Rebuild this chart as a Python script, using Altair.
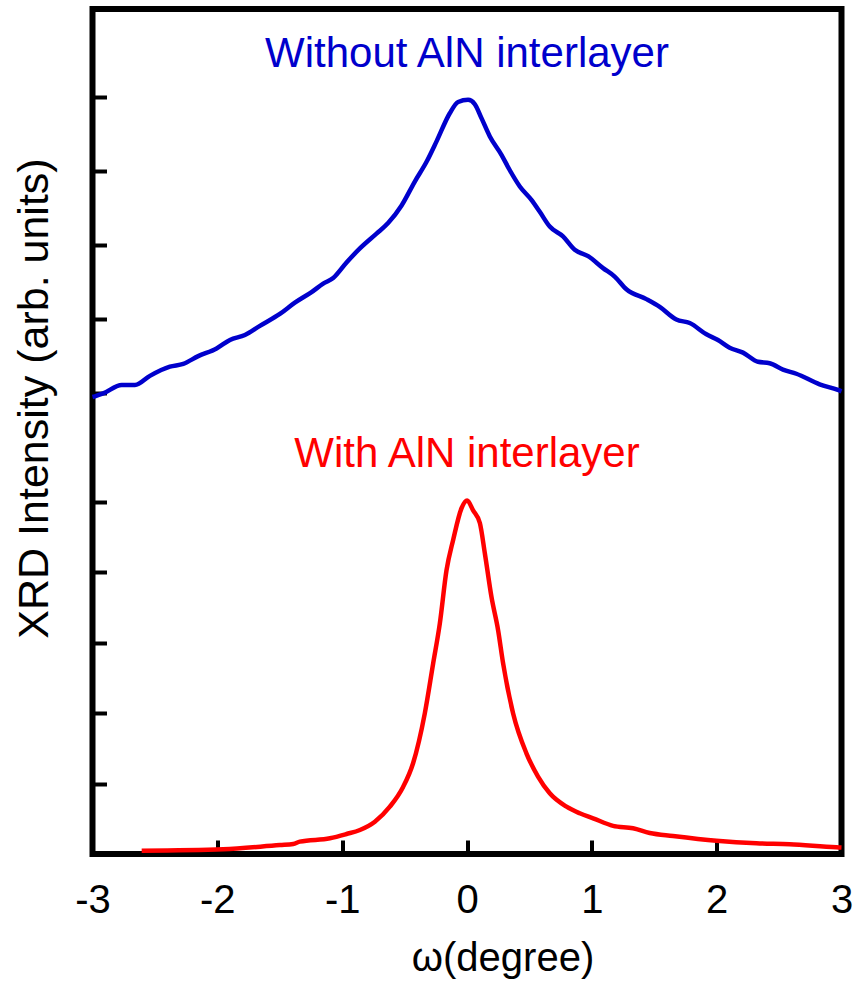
import altair as alt
import pandas as pd

# ---- data ----
blue_x = [-3.0, -2.98, -2.914, -2.766, -2.66, -2.54, -2.38, -2.273, -2.153, -2.006, -1.899,
          -1.779, -1.659, -1.499, -1.379, -1.245, -1.152, -1.072, -0.965, -0.858, -0.725,
          -0.632, -0.524, -0.418, -0.324, -0.244, -0.138, -0.071, 0.009, 0.062, 0.116,
          0.183, 0.276, 0.343, 0.423, 0.516, 0.583, 0.663, 0.769, 0.863, 0.970, 1.090,
          1.183, 1.277, 1.437, 1.544, 1.677, 1.784, 1.918, 2.010, 2.104, 2.211, 2.331,
          2.424, 2.531, 2.638, 2.825, 2.971, 3.0]
blue_y = [6.49, 6.50, 6.54, 6.66, 6.66, 6.79, 6.92, 6.96, 7.07, 7.18, 7.30,
          7.37, 7.50, 7.67, 7.83, 7.98, 8.10, 8.18, 8.40, 8.60, 8.81,
          8.96, 9.21, 9.55, 9.83, 10.12, 10.52, 10.68, 10.71, 10.65, 10.45,
          10.19, 9.93, 9.71, 9.48, 9.29, 9.12, 8.91, 8.77, 8.58, 8.49, 8.32,
          8.20, 8.02, 7.88, 7.77, 7.59, 7.54, 7.38, 7.30, 7.19, 7.12, 6.99,
          6.97, 6.88, 6.82, 6.67, 6.59, 6.57]

red_x = [-2.606, -1.953, -1.499, -1.392, -1.339, -1.098, -0.965, -0.858, -0.738, -0.618,
         -0.512, -0.432, -0.338, -0.271, -0.218, -0.164, -0.111, -0.044, 0.001, 0.049,
         0.103, 0.143, 0.196, 0.249, 0.289, 0.369, 0.476, 0.569, 0.663, 0.797,
         0.903, 1.010, 1.170, 1.330, 1.464, 1.650, 1.998, 2.318, 2.584, 2.958, 3.0]
red_y = [0.047, 0.067, 0.128, 0.142, 0.175, 0.223, 0.284, 0.341, 0.459, 0.672,
         0.952, 1.289, 1.998, 2.708, 3.27, 4.03, 4.46, 4.91, 5.02, 4.88,
         4.70, 4.27, 3.65, 3.18, 2.71, 2.00, 1.43, 1.10, 0.862, 0.672,
         0.578, 0.507, 0.40, 0.365, 0.298, 0.256, 0.189, 0.152, 0.138, 0.095, 0.092]

x_ticks = [-3, -2, -1, 0, 1, 2, 3]
y_ticks = [1, 2, 3, 4, 5, 6.55, 7.6, 8.65, 9.7, 10.75]

labels = ["Without AlN interlayer", "With AlN interlayer"]
label_x = [0.0, 0.0]
label_y = [11.18, 5.50]
series_colors = ["#0000CC", "#FF0000"]

FONT = "Liberation Sans, Arial, sans-serif"

df = pd.concat([
    pd.DataFrame({"x": blue_x, "y": blue_y, "s": "blue"}),
    pd.DataFrame({"x": red_x, "y": red_y, "s": "red"}),
])
lab = pd.DataFrame({"x": label_x, "y": label_y, "t": labels, "c": series_colors})

xscale = alt.Scale(domain=[-3, 3], nice=False, zero=False)
yscale = alt.Scale(domain=[0, 12], nice=False, zero=False)

xaxis = alt.Axis(values=x_ticks, title="ω(degree)", grid=False, domain=False,
                 tickSize=14, tickWidth=4, tickColor="black", offset=-14,
                 labelExpr="datum.value < 0 ? '-' + abs(datum.value) : '' + datum.value",
                 labelFont=FONT, labelFontSize=40, labelColor="black", labelPadding=26,
                 labelFlush=False, labelOverlap=False,
                 titleFont=FONT, titleFontSize=40, titleFontWeight="normal", titleColor="black",
                 titleX=410, titleY=130, titleBaseline="alphabetic", titleAlign="center")
yaxis = alt.Axis(values=y_ticks, title="XRD Intensity (arb. units)", grid=False, domain=False,
                 labels=False, tickSize=14, tickWidth=4, tickColor="black", offset=-14,
                 titleFont=FONT, titleFontSize=43, titleFontWeight="normal", titleColor="black",
                 titleAngle=-90, titleX=-59, titleY=389, titleBaseline="alphabetic",
                 titleAlign="center")

lines = alt.Chart(df).mark_line(strokeWidth=4.5, interpolate="monotone").encode(
    x=alt.X("x:Q", scale=xscale, axis=xaxis),
    y=alt.Y("y:Q", scale=yscale, axis=yaxis),
    color=alt.Color("s:N", scale=alt.Scale(domain=["blue", "red"], range=series_colors), legend=None),
    detail="s:N",
)

texts = alt.Chart(lab).mark_text(font=FONT, fontSize=42, align="center", baseline="alphabetic").encode(
    x=alt.X("x:Q", scale=xscale),
    y=alt.Y("y:Q", scale=yscale),
    text="t:N",
    color=alt.Color("c:N", scale=None),
)

chart = alt.layer(lines, texts).properties(
    width=749, height=845,
    autosize=alt.AutoSizeParams(type="none"),
    padding={"left": 92.5, "top": 9, "right": 13.5, "bottom": 131},
    background="white",
).configure_view(stroke="black", strokeWidth=6)

chart.save("out.html", embed_options={"renderer": "svg", "actions": False})
